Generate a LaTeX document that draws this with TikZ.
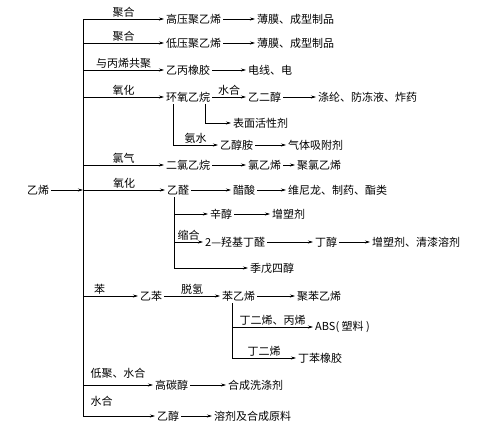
\documentclass[tikz,border=0pt]{standalone}
\usepackage{fontspec}
\setmainfont{Noto Sans CJK SC}
\usetikzlibrary{arrows.meta}

\begin{document}
\begin{tikzpicture}[
  x=1pt, y=-1pt,
  font=\fontsize{11}{13}\selectfont,
  item/.style={anchor=west, inner sep=2pt},
  tag/.style={above, inner sep=1pt},
  line/.style={line width=0.6pt},
  arrow/.style={-{Stealth[length=5pt,width=3pt]}, line width=0.6pt}
]
\useasboundingbox (0,0) rectangle (491,425);

\node[item] (ethene) at (25,190) {乙烯};
\coordinate (hub) at (83,190);
\draw[arrow] (ethene) -- (hub);

\node[item] (hdpe) at (164,19) {高压聚乙烯};
\node[item] (film1) at (255,19) {薄膜、成型制品};
\node[item] (ldpe) at (164,43) {低压聚乙烯};
\node[item] (film2) at (255,43) {薄膜、成型制品};
\node[item] (epr) at (164,70) {乙丙橡胶};
\node[item] (wire) at (246,70) {电线、电};

\node[item] (eo) at (164,97) {环氧乙烷};
\node[item] (glycol) at (246,97) {乙二醇};
\node[item] (fiber) at (316,97) {涤纶、防冻液、炸药};
\node[item] (surf) at (231,123) {表面活性剂};
\node[item] (amine) at (218,145) {乙醇胺};
\node[item] (adsorb) at (286,145) {气体吸附剂};
\coordinate (eo-a) at (205,0);
\coordinate (eo-b) at (173,0);

\node[item] (edc) at (164,165) {二氯乙烷};
\node[item] (vcm) at (246,165) {氯乙烯};
\node[item] (pvc) at (295,165) {聚氯乙烯};

\node[item] (acet) at (165,190) {乙醛};
\node[item] (acid) at (231,190) {醋酸};
\node[item] (vinylon) at (286,190) {维尼龙、制药、酯类};
\node[item] (octanol) at (208,214) {辛醇};
\node[item] (plast1) at (270,214) {增塑剂};
\node[item] (aldol) at (203,242) {2—羟基丁醛};
\node[item] (butanol) at (313,242) {丁醇};
\node[item] (solvent) at (370,242) {增塑剂、清漆溶剂};
\node[item] (penta) at (248,268) {季戊四醇};
\coordinate (acet-bar) at (174,0);

\node[item] (ebz) at (138,296) {乙苯};
\node[item] (styrene) at (220,296) {苯乙烯};
\node[item] (ps) at (295,296) {聚苯乙烯};
\node[item] (abs) at (313,327) {ABS( 塑料 )};
\node[item] (sbr) at (296,358) {丁苯橡胶};
\coordinate (sty-bar) at (232,0);

\node[item] (alcohol) at (153,385) {高碳醇};
\node[item] (deterg) at (226,385) {合成洗涤剂};
\node[item] (ethanol) at (155,416) {乙醇};
\node[item] (raw) at (212,416) {溶剂及合成原料};

% trunk
\draw[arrow] (hub) |- node[pos=0.75, tag] {聚合} (hdpe);
\draw[arrow] (hub) |- node[pos=0.63, tag, above=8pt] {水合} (ethanol);
\draw[arrow] (ldpe -| hub) -- node[tag] {聚合} (ldpe);
\draw[arrow] (epr -| hub) -- node[tag] {与丙烯共聚} (epr);
\draw[arrow] (eo -| hub) -- node[tag] {氧化} (eo);
\draw[arrow] (edc -| hub) -- node[tag] {氯气} (edc);
\draw[arrow] (hub) -- node[tag] {氧化} (acet);
\draw[arrow] (ebz -| hub) -- node[tag, pos=0.3] {苯} (ebz);
\draw[arrow] (alcohol -| hub) -- node[tag, above=5pt] {低聚、水合} (alcohol);

% products
\draw[arrow] (hdpe) -- (film1);
\draw[arrow] (ldpe) -- (film2);
\draw[arrow] (epr) -- (wire);
\draw[arrow] (eo) -- node[tag] {水合} (glycol);
\draw[arrow] (glycol) -- (fiber);
\draw[arrow] (eo.south -| eo-a) |- (surf);
\draw[arrow] (eo.south -| eo-b) |- node[pos=0.75, tag] {氨水} (amine);
\draw[arrow] (amine) -- (adsorb);
\draw[arrow] (edc) -- (vcm);
\draw[arrow] (vcm) -- (pvc);
\draw[arrow] (acet) -- (acid);
\draw[arrow] (acid) -- (vinylon);
\draw[arrow] (acet.south -| acet-bar) |- (penta);
\draw[arrow] (octanol -| acet-bar) -- (octanol);
\draw[arrow] (octanol) -- (plast1);
\draw[arrow] (aldol -| acet-bar) -- node[tag] {缩合} (aldol);
\draw[arrow] (aldol) -- (butanol);
\draw[arrow] (butanol) -- (solvent);
\draw[arrow] (ebz) -- node[tag] {脱氢} (styrene);
\draw[arrow] (styrene) -- (ps);
\draw[arrow] (styrene.south -| sty-bar) |- node[pos=0.75, tag] {丁二烯} (sbr);
\draw[arrow] (abs -| sty-bar) -- node[tag] {丁二烯、丙烯} (abs);
\draw[arrow] (alcohol) -- (deterg);
\draw[arrow] (ethanol) -- (raw);
\end{tikzpicture}
\end{document}
